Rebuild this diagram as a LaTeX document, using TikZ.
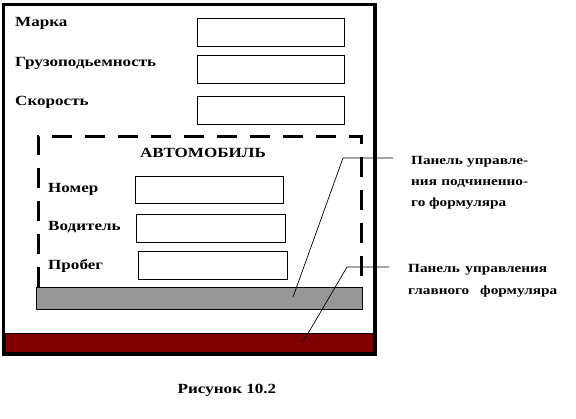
\documentclass[tikz,border=0pt]{standalone}
\usepackage{fontspec}
\setmainfont{Liberation Serif}
\newfontfamily\lblfont[FakeStretch=1.22]{Liberation Serif}
\begin{document}
\begin{tikzpicture}[x=1pt,y=-1pt,
  lbl/.style={font=\lblfont\bfseries\fontsize{14}{16}\selectfont, anchor=west, inner sep=0pt},
  note/.style={font=\lblfont\bfseries\fontsize{12.5}{15}\selectfont, anchor=west, inner sep=0pt},
  field/.style={draw, line width=1pt, fill=white, inner sep=0pt},
  outerframe/.style={draw, line width=3.5pt},
  dashbox/.style={draw, line width=3pt, dash pattern=on 20pt off 13pt},
  leader/.style={draw, line width=0.7pt},
  bar/.style={draw, line width=1pt, inner sep=0pt}]
\useasboundingbox (0,0) rectangle (576,418);
% outer frame
\node[outerframe, minimum width=371.5pt, minimum height=350pt, inner sep=0pt] (frame) at (189.25,179.5) {};
% fields of main form
\node[lbl] (l1) at (15,23) {Марка};
\node[lbl] (l2) at (15,63) {Грузоподьемность};
\node[lbl] (l3) at (15,102) {Скорость};
\node[field, minimum width=147pt, minimum height=28pt] (f1) at (270.5,32) {};
\node[field, minimum width=147pt, minimum height=28pt] (f2) at (270.5,69) {};
\node[field, minimum width=147pt, minimum height=28pt] (f3) at (270.5,110) {};
% subform
\draw[dashbox] (38,287) -- (38,136) -- (361,136) -- (361,287);
\node[lbl, anchor=center] (title) at (203,153) {АВТОМОБИЛЬ};
\node[lbl] (s1) at (48,189) {Номер};
\node[lbl] (s2) at (48,227) {Водитель};
\node[lbl] (s3) at (48,266) {Пробег};
\node[field, minimum width=148pt, minimum height=27pt] (g1) at (209,189.5) {};
\node[field, minimum width=149pt, minimum height=28pt] (g2) at (210.5,228) {};
\node[field, minimum width=149pt, minimum height=28pt] (g3) at (212.5,265) {};
% control panels
\node[bar, fill={rgb,255:red,150;green,150;blue,150}, minimum width=326pt, minimum height=22pt] (subpanel) at (199,298) {};
\node[bar, fill={rgb,255:red,128;green,0;blue,0}, minimum width=368pt, minimum height=19pt] (mainpanel) at (189,342.5) {};
% leaders
\coordinate (p1) at (293,297);
\coordinate (k1) at (343,158);
\coordinate (e1) at (393,158);
\coordinate (p2) at (303,342);
\coordinate (k2) at (347,267);
\coordinate (e2) at (389,267);
\draw[leader] (p1) -- (k1) -- (e1);
\draw[leader] (p2) -- (k2) -- (e2);
% labels
\node[note] (a1) at (411,162) {\makebox[117pt][s]{Панель\hfill управле-}};
\node[note] (a2) at (411,184) {\makebox[117pt][s]{ния\hfill подчиненно-}};
\node[note] (a3) at (411,204) {го формуляра};
\node[note] (b1) at (408,270) {\makebox[139pt][s]{Панель\hfill управления}};
\node[note] (b2) at (408,292) {\makebox[149pt][s]{главного\hfill формуляра}};
% caption
\node[lbl, anchor=center] (cap) at (227,390) {Рисунок 10.2};
\end{tikzpicture}
\end{document}
